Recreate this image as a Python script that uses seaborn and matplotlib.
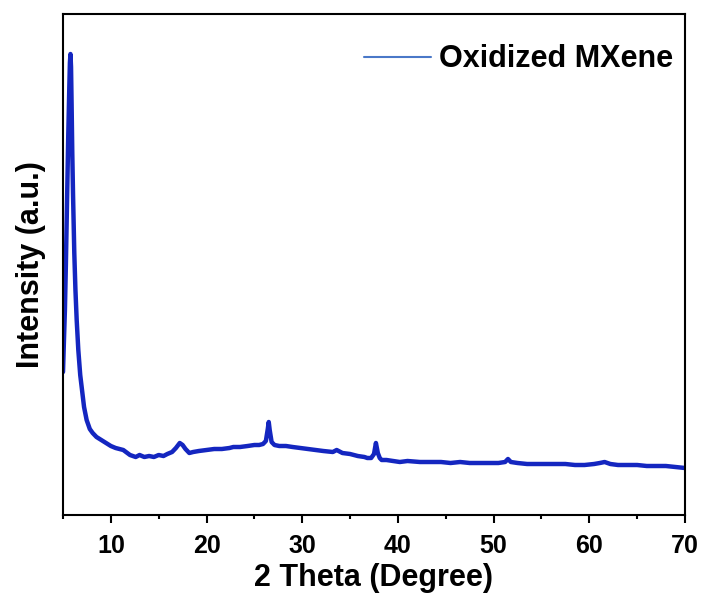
import matplotlib
matplotlib.use('Agg')
import matplotlib.pyplot as plt
from matplotlib.lines import Line2D
from matplotlib.ticker import MultipleLocator, NullLocator
import pandas as pd
import seaborn as sns

# XRD pattern (intensity in arbitrary units)
two_theta = [5.0, 5.1, 5.2, 5.3, 5.45, 5.55, 5.66, 5.72, 5.78, 5.84, 5.9, 5.97,
             6.05, 6.18, 6.3, 6.43, 6.6, 6.8, 6.95, 7.2, 7.47, 7.8, 8.1, 8.5,
             9.0, 9.5, 10.0, 10.5, 11.3, 12.0, 12.6, 13.0, 13.5, 14.0, 14.5,
             15.0, 15.5, 15.9, 16.4, 16.8, 17.2, 17.5, 17.8, 18.2, 18.6, 19.2,
             20.0, 20.8, 21.6, 22.4, 22.8, 23.5, 24.3, 25.0, 25.5, 25.9, 26.2,
             26.4, 26.5, 26.6, 26.8, 27.1, 27.6, 28.3, 29.0, 29.8, 30.6, 31.4,
             32.2, 33.2, 33.6, 34.2, 35.0, 35.8, 36.5, 36.8, 37.2, 37.5, 37.7,
             37.9, 38.1, 38.3, 38.8, 39.5, 40.2, 41.0, 42.3, 43.5, 44.5, 45.5,
             46.5, 47.5, 48.5, 49.5, 50.5, 51.2, 51.5, 51.8, 52.5, 53.5, 54.5,
             55.5, 56.5, 57.5, 58.5, 59.5, 60.5, 61.1, 61.6, 62.2, 63.0, 64.0,
             65.0, 66.0, 67.0, 68.0, 69.0, 70.0]
intensity = [143, 175, 205, 250, 328, 380, 428, 452, 461, 448, 410, 362,
             320, 262, 225, 195, 165, 140, 128, 108, 95, 86, 82, 78,
             75, 72, 69, 67, 65, 60, 58, 60, 58, 59, 58,
             60, 59, 61, 63, 67, 72, 70, 66, 62, 63, 64,
             65, 66, 66, 67, 68, 68, 69, 70, 70, 71, 74,
             86, 93, 85, 73, 70, 69, 69, 68, 67, 66, 65,
             64, 63, 65, 62, 61, 59, 58, 57, 57, 61, 72,
             62, 57, 55, 55, 54, 53, 54, 53, 53, 53, 52,
             53, 52, 52, 52, 52, 53, 56, 53, 52, 51, 51,
             51, 51, 51, 50, 50, 51, 52, 53, 51, 50, 50,
             50, 49, 49, 49, 48, 47]
series_name = 'Oxidized MXene'
x_ticks = [10, 20, 30, 40, 50, 60, 70]

df = pd.DataFrame({'2theta': two_theta, 'I': intensity})

sns.set_theme(style='ticks')
plt.rcParams['font.family'] = ['Liberation Sans', 'DejaVu Sans']
plt.rcParams['font.weight'] = 'bold'
plt.rcParams['text.color'] = 'black'
plt.rcParams['axes.labelcolor'] = 'black'
plt.rcParams['xtick.color'] = 'black'

fig = plt.figure(figsize=(7.07, 6.01), dpi=100)
ax = fig.add_axes([63 / 707, 1 - 515 / 601, (685 - 63) / 707, (515 - 14) / 601])

sns.lineplot(data=df, x='2theta', y='I', ax=ax, color='#1426c0', lw=3.2,
             estimator=None, sort=False)

ax.set_xlim(5, 70)
ax.set_ylim(0, 501)
ax.set_xticks(x_ticks)
ax.xaxis.set_minor_locator(MultipleLocator(5))
ax.yaxis.set_major_locator(NullLocator())
ax.tick_params(axis='x', which='major', direction='out', length=6, width=1.5,
               labelsize=18, pad=8, colors='black')
ax.tick_params(axis='x', which='minor', direction='out', length=3, width=1.5)
for lab in ax.get_xticklabels():
    lab.set_fontweight('bold')
for sp in ax.spines.values():
    sp.set_visible(True)
    sp.set_linewidth(1.5)
    sp.set_color('black')

ax.set_xlabel('2 Theta (Degree)', fontsize=22, fontweight='bold', labelpad=3)
ax.set_ylabel('Intensity (a.u.)', fontsize=22, fontweight='bold', labelpad=12)

handle = Line2D([], [], color='#4a78c8', lw=1.5)
ax.legend([handle], [series_name], loc='upper right', frameon=False,
          bbox_to_anchor=(1.0096, 0.976),
          prop={'size': 22, 'weight': 'bold'}, handlelength=2.2,
          handletextpad=0.25, borderaxespad=0.2, borderpad=0.4)

fig.savefig('out.png', dpi=100)
